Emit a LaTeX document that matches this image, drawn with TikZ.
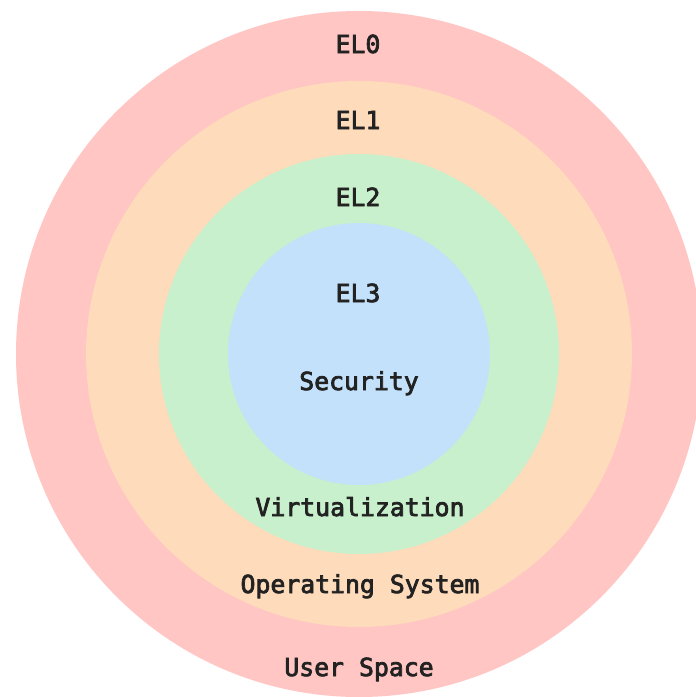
\documentclass[tikz,border=0pt]{standalone}
\usepackage{fontspec}
\setmonofont[FakeBold=3]{DejaVu Sans Mono}
\definecolor{ringzero}{HTML}{FFC6C3}
\definecolor{ringone}{HTML}{FDDBBB}
\definecolor{ringtwo}{HTML}{C9F0CC}
\definecolor{ringthree}{HTML}{C3E1FA}
\definecolor{labeltext}{HTML}{222222}
\begin{document}
\begin{tikzpicture}[x=1pt,y=-1pt,
  ring/.style={draw=none},
  lbl/.style={anchor=base,inner sep=0pt,text=labeltext,
    font=\ttfamily\fontsize{24.8}{28}\selectfont}]
\useasboundingbox[fill=white] (0,0) rectangle (696,697);
\begin{scope}
\clip (0,0) rectangle (696,697);
% nested privilege rings, outermost first
\fill[ring,ringzero]  (359,354) circle[radius=343];
\fill[ring,ringone]   (359,354) circle[radius=273];
\fill[ring,ringtwo]   (359,354) circle[radius=200];
\fill[ring,ringthree] (359,354) circle[radius=131];
\end{scope}
% level names along the top
\node[lbl] (el0) at (358,53)  {EL0};
\node[lbl] (el1) at (358,129) {EL1};
\node[lbl] (el2) at (358,206) {EL2};
\node[lbl] (el3) at (358,302) {EL3};
% roles along the bottom
\node[lbl] (sec)  at (359,390) {Security};
\node[lbl] (virt) at (360,516) {Virtualization};
\node[lbl] (os)   at (360,593) {Operating System};
\node[lbl] (user) at (359,676) {User Space};
\end{tikzpicture}
\end{document}
